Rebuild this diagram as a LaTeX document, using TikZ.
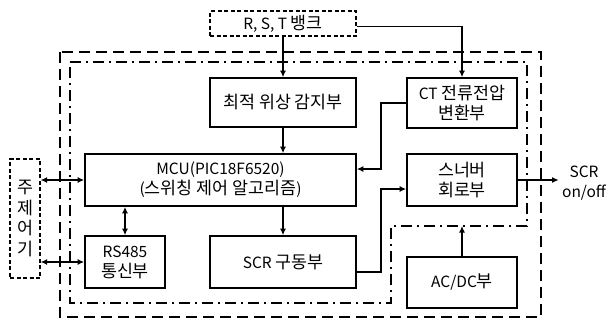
\documentclass[tikz,border=0pt]{standalone}
\usepackage{fontspec}
\setmainfont{Noto Sans CJK KR}
\newfontfamily\kr{Noto Sans CJK KR}[Scale=1.12]
\usetikzlibrary{arrows.meta}
\begin{document}
\begin{tikzpicture}[x=1pt,y=-1pt,
  font=\fontsize{15.5}{20}\selectfont,
  blk/.style={draw,line width=1.6pt,inner sep=0pt,align=center},
  dblk/.style={draw,line width=1.2pt,dash pattern=on 4pt off 2.5pt,inner sep=0pt,align=center},
  conn/.style={line width=1.8pt,-{Latex[length=6.5pt,width=6pt]}},
  bconn/.style={line width=1.8pt,{Latex[length=6.5pt,width=6pt]}-{Latex[length=6.5pt,width=6pt]}},
  wire/.style={line width=1.8pt}]
\useasboundingbox (0,0) rectangle (608,322);
% enclosures
\draw[line width=1.6pt,dash pattern=on 11pt off 6pt] (60,52) rectangle (541,317);
\coordinate (notch) at (391,226);
\draw[line width=1.6pt,dash pattern=on 11pt off 5pt on 2pt off 5pt]
  (70,62) -- (527,62) -- (527,226) -- (notch) -- (391,303) -- (70,303) -- cycle;
% nodes
\node[dblk,minimum width=146pt,minimum height=25pt] (rst) at (283,23.5) {R, S, T {\kr 뱅크}};
\node[blk,minimum width=146pt,minimum height=49pt] (opt) at (283,102.5) {\kr 최적 위상 감지부};
\node[blk,minimum width=110pt,minimum height=50pt] (ct) at (462,103) {CT {\kr 전류전압}\\{\kr 변환부}};
\node[blk,minimum width=271pt,minimum height=52pt] (mcu) at (220.5,180) {MCU(PIC18F6520)\\({\kr 스위칭 제어 알고리즘})};
\node[blk,minimum width=110pt,minimum height=52pt] (snub) at (462,180) {{\kr 스너버}\\{\kr 회로부}};
\node[blk,minimum width=80pt,minimum height=52pt] (rs) at (125,262) {RS485\\{\kr 통신부}};
\node[blk,minimum width=146pt,minimum height=52pt] (scrd) at (283,262) {SCR {\kr 구동부}};
\node[blk,minimum width=110pt,minimum height=51pt] (acdc) at (462,282.5) {AC/DC{\kr 부}};
\node[dblk,minimum width=30pt,minimum height=119pt,text width=30pt,font=\fontsize{15.5}{20.5}\selectfont\kr] (ctrl) at (25,218.5) {주\\제\\어\\기};
\node[align=center] (out) at (584,183) {SCR\\on/off};
% connectors
\draw[conn] (rst.south) -- (opt.north);
\draw[conn] ([yshift=-3pt]rst.east) -| (ct.north);
\draw[conn] (opt.south) -- (opt.south |- mcu.north);
\draw[conn] (ct.west) -- (381,103) |- ([yshift=11pt]mcu.east);
\draw[conn] ([yshift=-10pt]scrd.east) -- (381,272) |- ([yshift=-9pt]snub.west);
\draw[conn] (snub.east) -- (out.west |- snub.east);
\draw[bconn] (ctrl.east |- mcu.west) -- (mcu.west);
\draw[bconn] (ctrl.east |- rs.west) -- (rs.west);
\draw[bconn] (rs.north |- mcu.south) -- (rs.north);
\draw[conn] (scrd.north |- mcu.south) -- (scrd.north);
\draw[conn] (acdc.north) -- (acdc.north |- notch);
\end{tikzpicture}
\end{document}
